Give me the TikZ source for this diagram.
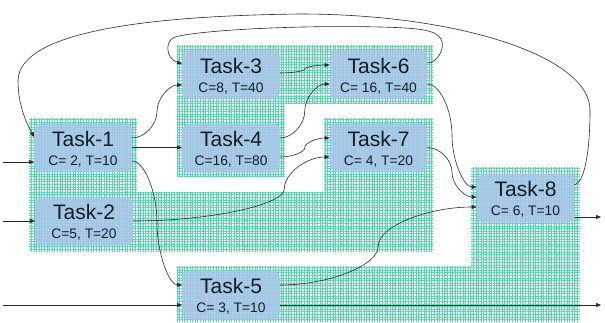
\documentclass[tikz,border=0pt]{standalone}
\usepackage{fontspec}
\setmainfont{Liberation Sans}
\usetikzlibrary{arrows.meta,calc,patterns.meta}
\definecolor{hatchc}{RGB}{95,210,180}
\definecolor{hatchbg}{RGB}{236,250,246}
\definecolor{boxc}{RGB}{168,196,234}
\definecolor{txtc}{RGB}{20,30,35}
\definecolor{linec}{RGB}{40,40,40}
\newcommand\tasklbl[2]{\vbox to 49pt{\offinterlineskip\vskip 23pt\hbox to 98pt{\hss\smash{\fontsize{21}{21}\selectfont #1}\hss}\vskip 19pt\hbox to 98pt{\hss\smash{\fontsize{13.8}{14}\selectfont #2}\hss}\vss}}
\tikzset{
  taskbox/.style={rectangle, rounded corners=8pt, fill=boxc, fill opacity=0.85, text opacity=1, inner sep=0pt, outer sep=0pt, text=txtc},
  conn/.style={draw=linec, line width=0.6pt, -{Triangle[length=5pt,width=4pt]}},
  hatchfill/.style={fill=hatchbg},
  hatchpat/.style={pattern={Hatch[distance=2.6pt,angle=0,line width=0.4pt]}, pattern color=hatchc},
  sconn/.style={to path={
    let \p1=(\tikztostart), \p2=(\tikztotarget),
        \n1={\x1+#1*(\x2-\x1)}
    in .. controls ({(\x1+\n1*1pt)/2}, \y1) and ({\n1*1pt}, {0.75*\y1+0.25*\y2}) .. ({\n1*1pt}, {0.5*\y1+0.5*\y2})
       .. controls ({\n1*1pt}, {0.25*\y1+0.75*\y2}) and ({(\n1*1pt+\x2)/2}, \y2) .. (\tikztotarget)
  }},
  sconn/.default=0.5,
}
\begin{document}
\begin{tikzpicture}[x=1pt,y=-1pt]
\useasboundingbox (0,0) rectangle (605,322);
% hatched areas
\fill[hatchfill] (29,118) rectangle (137,252) (29,192) rectangle (433,252)
  (177,45) rectangle (433,104) (177,104) rectangle (285,177)
  (324,118) rectangle (433,252) (177,266) rectangle (471,322) (471,167) rectangle (580,322);
\path[hatchpat] (29,118) rectangle (137,252) (29,192) rectangle (433,252)
  (177,45) rectangle (433,104) (177,104) rectangle (285,177)
  (324,118) rectangle (433,252) (177,266) rectangle (471,322) (471,167) rectangle (580,322);
% tasks
\node[taskbox] (t1) at (83,147.5) {\tasklbl{Task-1}{C= 2, T=10}};
\node[taskbox] (t2) at (84,221) {\tasklbl{Task-2}{C=5, T=20}};
\node[taskbox] (t3) at (231,74.5) {\tasklbl{Task-3}{C=8, T=40}};
\node[taskbox] (t4) at (231,148) {\tasklbl{Task-4}{C=16, T=80}};
\node[taskbox] (t5) at (231,295) {\tasklbl{Task-5}{C= 3, T=10}};
\node[taskbox] (t6) at (378.5,74.5) {\tasklbl{Task-6}{C= 16, T=40}};
\node[taskbox] (t7) at (378.5,147.5) {\tasklbl{Task-7}{C= 4, T=20}};
\node[taskbox] (t8) at (525.5,198) {\tasklbl{Task-8}{C= 6, T=10}};
% free ends
\coordinate (in1) at (3,162);
\coordinate (in2) at (3,221);
\coordinate (in5) at (3,305);
\coordinate (out5) at (601,305);
\coordinate (out8) at (601,217);
% inputs / outputs
\draw[conn] (in1) -- (in1 -| t1.west);
\draw[conn] (in2) -- (in2 -| t2.west);
\draw[conn] (in5) -- (in5 -| t5.west);
\draw[conn] (t5.east |- in5) -- (out5);
\draw[conn] (t8.east |- out8) -- (out8);
% precedence
\draw[conn] (t1.east) -- (t1.east -| t4.west);
\draw[conn] ($(t1.east)+(0,-9.5)$) to[sconn] ($(t3.west)+(0,10.5)$);
\draw[conn] ($(t1.east)+(0,13.5)$) to[sconn] ($(t5.west)+(0,-10)$);
\draw[conn] (t2.east) to[sconn=0.77] ($(t7.west)+(0,9.5)$);
\draw[conn] ($(t3.east)+(0,-1.5)$) to[sconn] ($(t6.west)+(0,-9.5)$);
\draw[conn] ($(t4.east)+(0,-10)$) to[sconn] ($(t6.west)+(0,9.5)$);
\draw[conn] ($(t4.east)+(0,9)$) to[sconn] ($(t7.west)+(0,-9.5)$);
\draw[conn] ($(t6.east)+(0,9.5)$) to[sconn] ($(t8.west)+(0,-11)$);
\draw[conn] (t7.east) to[sconn] ($(t8.west)+(0,-1)$);
\draw[conn] ($(t5.east)+(0,-10)$) to[sconn] ($(t8.west)+(0,9)$);
% feedback arcs
\draw[conn] ($(t6.east)+(0,-11.5)$) .. controls (437,63) and (446,48) .. (441,39)
  .. controls (436,30) and (420,28) .. (380,27)
  .. controls (300,25) and (200,30) .. (175,37)
  .. controls (165,40) and (165,58) .. ($(t3.west)+(0,-10.5)$);
\draw[conn] ($(t8.east)+(0,-13)$) .. controls (585,182) and (590,150) .. (590,110)
  .. controls (590,57) and (460,14) .. (300,14)
  .. controls (130,16) and (20,35) .. (18,80)
  .. controls (18,105) and (26,122) .. ($(t1.west)+(0,-10.5)$);
\end{tikzpicture}
\end{document}
